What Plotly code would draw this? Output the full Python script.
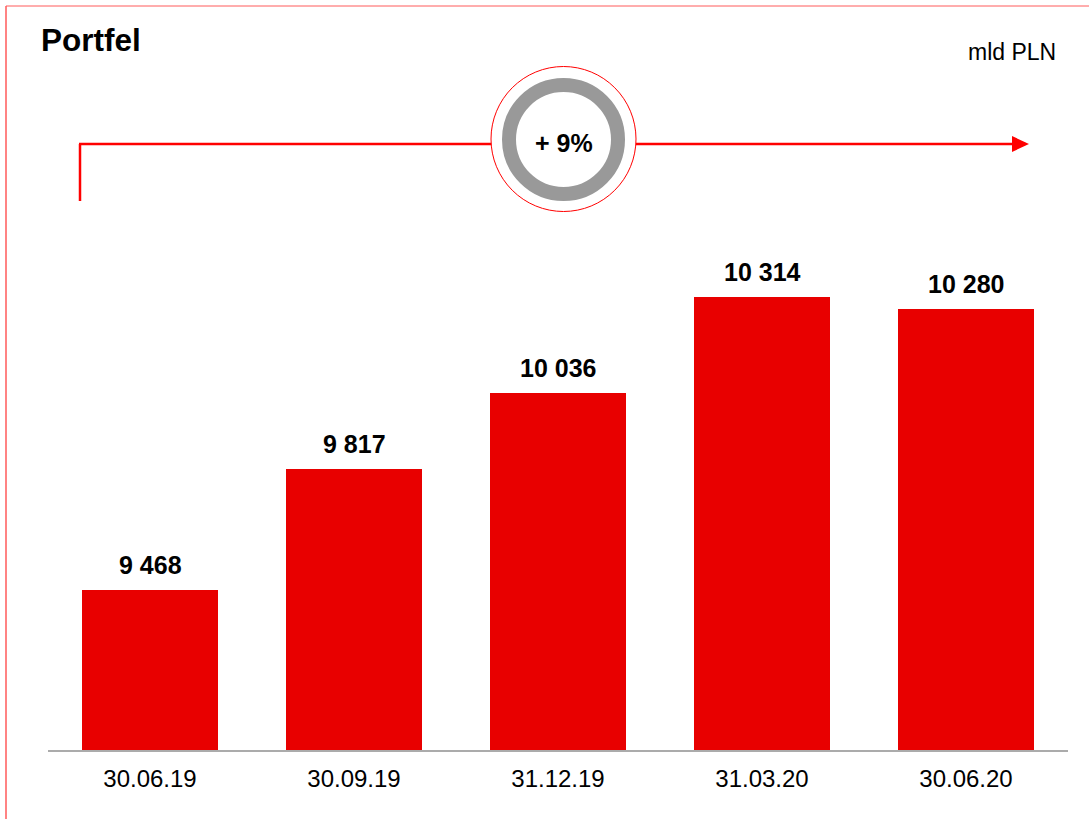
import plotly.graph_objects as go

categories = ["30.06.19", "30.09.19", "31.12.19", "31.03.20", "30.06.20"]
values = [9468, 9817, 10036, 10314, 10280]
value_labels = ["9 468", "9 817", "10 036", "10 314", "10 280"]
title_text = "Portfel"
unit_text = "mld PLN"
growth_text = "+ 9%"

W, H = 1089, 819
FONT = "Arial, 'Liberation Sans', sans-serif"
RED = "#E80000"
LINE_RED = "#FF0000"


def px(x):
    return x / W


def py(y):
    return 1 - y / H


fig = go.Figure()
fig.add_trace(go.Bar(
    x=categories, y=values, width=0.667,
    marker=dict(color=RED, line=dict(width=0)),
    hoverinfo="skip",
))

annotations = []
for c, v, t in zip(categories, values, value_labels):
    annotations.append(dict(
        x=c, y=v, xref="x", yref="y", text=t, showarrow=False,
        yanchor="bottom", yshift=9,
        font=dict(family=FONT, size=25, color="#000000", weight="bold"),
    ))

annotations += [
    dict(x=px(39), y=py(40), xref="paper", yref="paper", text=title_text,
         showarrow=False, xanchor="left", yanchor="middle",
         font=dict(family=FONT, size=31.5, color="#000000", weight="bold")),
    dict(x=px(1058), y=py(52), xref="paper", yref="paper", text=unit_text,
         showarrow=False, xanchor="right", yanchor="middle",
         font=dict(family=FONT, size=23, color="#000000")),
    dict(x=px(563.5), y=py(143), xref="paper", yref="paper", text=growth_text,
         showarrow=False, xanchor="center", yanchor="middle",
         font=dict(family=FONT, size=25, color="#000000", weight="bold")),
]

shapes = [
    # frame lines
    dict(type="line", xref="paper", yref="paper", x0=px(6), x1=px(1089), y0=py(6), y1=py(6),
         line=dict(color="#FF5A5A", width=1)),
    dict(type="line", xref="paper", yref="paper", x0=px(6), x1=px(6), y0=py(6), y1=py(819),
         line=dict(color="#FF5A5A", width=1.5)),
    # arrow path
    dict(type="line", xref="paper", yref="paper", x0=px(80), x1=px(80), y0=py(144), y1=py(201),
         line=dict(color=LINE_RED, width=2.5)),
    dict(type="line", xref="paper", yref="paper", x0=px(79), x1=px(492), y0=py(144), y1=py(144),
         line=dict(color=LINE_RED, width=2.5)),
    dict(type="line", xref="paper", yref="paper", x0=px(636), x1=px(1015), y0=py(144), y1=py(144),
         line=dict(color=LINE_RED, width=2.5)),
    dict(type="path", xref="paper", yref="paper",
         path=f"M {px(1012)} {py(136)} L {px(1029)} {py(144)} L {px(1012)} {py(152)} Z",
         fillcolor=LINE_RED, line=dict(color=LINE_RED, width=0)),
    # circles
    dict(type="circle", xref="paper", yref="paper",
         x0=px(563.5 - 72.5), x1=px(563.5 + 72.5), y0=py(139 - 72.5), y1=py(139 + 72.5),
         fillcolor="white", line=dict(color=LINE_RED, width=1)),
    dict(type="circle", xref="paper", yref="paper",
         x0=px(563.5 - 54.5), x1=px(563.5 + 54.5), y0=py(139.5 - 54.5), y1=py(139.5 + 54.5),
         fillcolor="rgba(0,0,0,0)", line=dict(color="#999999", width=14)),
]

fig.update_layout(
    width=W, height=H,
    margin=dict(l=0, r=0, t=0, b=0),
    paper_bgcolor="white", plot_bgcolor="white",
    showlegend=False,
    bargap=0,
    xaxis=dict(domain=[px(48), px(1068)], showline=True, linecolor="#ABABAB", linewidth=1.5,
               ticks="", showgrid=False, zeroline=False, ticklabelstandoff=6,
               tickfont=dict(family=FONT, size=24, color="#000000")),
    yaxis=dict(domain=[py(750), py(230)], range=[9005, 9005 + 520 / 0.346],
               visible=False, showgrid=False, zeroline=False),
    annotations=annotations,
    shapes=shapes,
)

fig.write_html("out.html", config={"displayModeBar": False},
               post_script="document.body.style.margin='0';document.body.style.overflow='hidden';")
